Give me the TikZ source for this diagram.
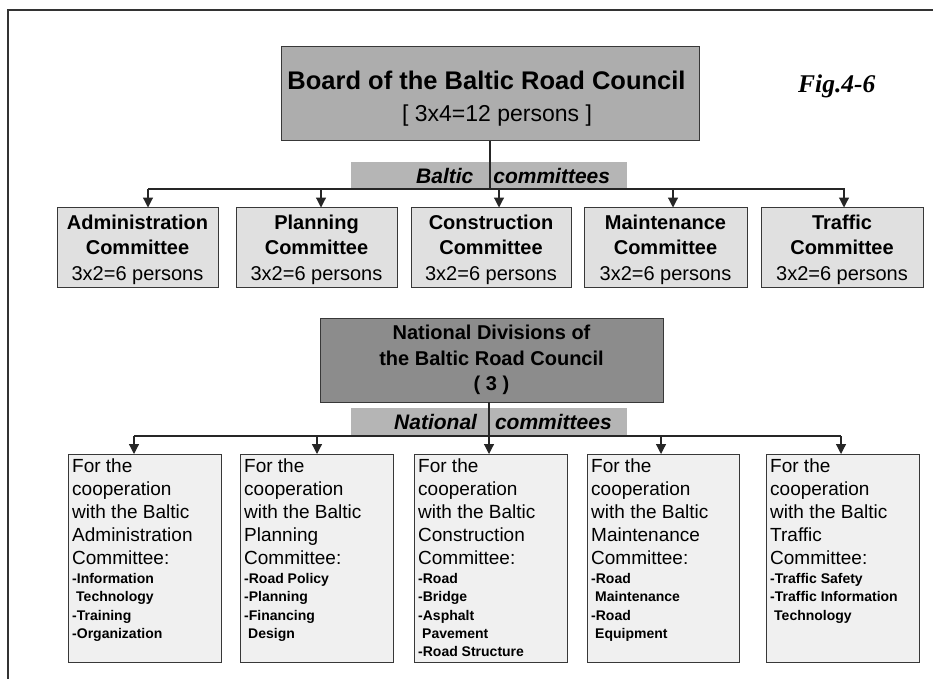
\documentclass[tikz,border=0pt]{standalone}
\usepackage{fontspec}
\setmainfont{Liberation Sans}
\newfontfamily\figfont{Liberation Serif}
\usetikzlibrary{arrows.meta}
\definecolor{boardgray}{gray}{0.68}
\definecolor{natgray}{gray}{0.55}
\definecolor{bargray}{gray}{0.71}
\definecolor{cgray}{gray}{0.88}
\definecolor{bgray}{gray}{0.94}
\definecolor{edgegray}{gray}{0.22}
\begin{document}
\begin{tikzpicture}[x=1pt,y=-1pt,
  rbox/.style={draw=edgegray, line width=1pt, inner sep=0pt, outer sep=0pt},
  bar/.style={fill=bargray, inner sep=0pt, outer sep=0pt, minimum width=276pt},
  cbox/.style={rbox, fill=cgray, minimum height=80pt, align=center, text depth=0pt,
    font=\fontsize{20}{25.5}\selectfont},
  nbox/.style={rbox, fill=bgray, minimum height=208pt},
  head/.style={anchor=north west, inner sep=0pt, align=left,
    font=\fontsize{19}{23}\selectfont},
  items/.style={anchor=north west, inner sep=0pt, align=left,
    font=\fontsize{14}{18.4}\selectfont\bfseries},
  bartext/.style={anchor=base west, inner sep=0pt,
    font=\fontsize{21}{25}\selectfont\bfseries\itshape},
  conn/.style={draw=black!85, line width=1.2pt},
  arr/.style={conn, -{Triangle[width=10pt,length=10pt]}}
]
\useasboundingbox (0,0) rectangle (933,679);
% frame
\draw[line width=2pt, black!80] (8,679) -- (8,10) -- (933,10);

% board
\node[rbox, fill=boardgray, minimum width=418pt, minimum height=94pt] (board) at (490,94) {};
\node[anchor=base, inner sep=0pt, font=\fontsize{25.5}{30}\selectfont\bfseries] (boardt) at (486.5,90) {Board of the Baltic Road Council};
\node[anchor=base, inner sep=0pt, font=\fontsize{23}{27}\selectfont] (boards) at (497,122) {[ 3x4=12 persons ]};

\node[anchor=base west, inner sep=0pt, font=\figfont\bfseries\itshape\fontsize{25.5}{30}\selectfont] (fig) at (798,93) {Fig.4-6};

% baltic committees bar
\node[bar, minimum height=26pt] (bbar) at (489,175) {};
\node[bartext] (bbart) at (416,183) {Baltic\hspace{20pt}committees};

% committee boxes
\node[cbox, minimum width=161pt] (c1) at (137.5,247.5) {\textbf{Administration}\\\textbf{Committee}\\3x2=6 persons};
\node[cbox, minimum width=161pt] (c2) at (316.5,247.5) {\textbf{Planning}\\\textbf{Committee}\\3x2=6 persons};
\node[cbox, minimum width=160pt] (c3) at (491,247.5) {\textbf{Construction}\\\textbf{Committee}\\3x2=6 persons};
\node[cbox, minimum width=163pt] (c4) at (665.5,247.5) {\textbf{Maintenance}\\\textbf{Committee}\\3x2=6 persons};
\node[cbox, minimum width=162pt] (c5) at (842,247.5) {\textbf{Traffic}\\\textbf{Committee}\\3x2=6 persons};

% top connectors
\coordinate (busL) at (148,189);
\coordinate (busR) at (845,189);
\draw[conn] (board.south) -- (board.south |- busL);
\draw[conn] (busL) -- (busR);
\coordinate (a1) at (148,189);
\coordinate (a2) at (321,189);
\coordinate (a3) at (499,189);
\coordinate (a4) at (673,189);
\coordinate (a5) at (844,189);
\draw[arr] (a1) -- (a1 |- c1.north);
\draw[arr] (a2) -- (a2 |- c2.north);
\draw[arr] (a3) -- (a3 |- c3.north);
\draw[arr] (a4) -- (a4 |- c4.north);
\draw[arr] (a5) -- (a5 |- c5.north);

% national divisions
\node[rbox, fill=natgray, minimum width=343pt, minimum height=84pt, align=center,
  font=\fontsize{20}{25.5}\selectfont\bfseries] (nat) at (491.5,360)
  {National Divisions of\\the Baltic Road Council\\( 3 )};

\node[bar, minimum height=27pt] (nbar) at (489,421.5) {};
\node[bartext] (nbart) at (394,429) {National\hspace{18pt}committees};

% national committee boxes
\node[nbox, minimum width=153pt] (b1) at (144.5,558) {};
\node[nbox, minimum width=153pt] (b2) at (316.5,558) {};
\node[nbox, minimum width=153pt] (b3) at (490.5,558) {};
\node[nbox, minimum width=152pt] (b4) at (663,558) {};
\node[nbox, minimum width=153pt] (b5) at (842.5,558) {};

\node[head] (h1) at ([xshift=4pt,yshift=-5pt]b1.north west) {For the\\cooperation\\with the Baltic\\Administration\\Committee:};
\node[head] (h2) at ([xshift=4pt,yshift=-5pt]b2.north west) {For the\\cooperation\\with the Baltic\\Planning\\Committee:};
\node[head] (h3) at ([xshift=4pt,yshift=-5pt]b3.north west) {For the\\cooperation\\with the Baltic\\Construction\\Committee:};
\node[head] (h4) at ([xshift=4pt,yshift=-5pt]b4.north west) {For the\\cooperation\\with the Baltic\\Maintenance\\Committee:};
\node[head] (h5) at ([xshift=4pt,yshift=-5pt]b5.north west) {For the\\cooperation\\with the Baltic\\Traffic\\Committee:};

\node[items] (i1) at ([xshift=4pt,yshift=-119pt]b1.north west) {-Information\\\hspace*{4pt}Technology\\-Training\\-Organization};
\node[items] (i2) at ([xshift=4pt,yshift=-119pt]b2.north west) {-Road Policy\\-Planning\\-Financing\\\hspace*{4pt}Design};
\node[items] (i3) at ([xshift=4pt,yshift=-119pt]b3.north west) {-Road\\-Bridge\\-Asphalt\\\hspace*{4pt}Pavement\\-Road Structure};
\node[items] (i4) at ([xshift=4pt,yshift=-119pt]b4.north west) {-Road\\\hspace*{4pt}Maintenance\\-Road\\\hspace*{4pt}Equipment};
\node[items] (i5) at ([xshift=4pt,yshift=-119pt]b5.north west) {-Traffic Safety\\-Traffic Information\\\hspace*{4pt}Technology};

% bottom connectors
\coordinate (nbusL) at (134,436);
\coordinate (nbusR) at (841,436);
\draw[conn] (nbusL) -- (nbusR);
\coordinate (n1) at (134,436);
\coordinate (n2) at (317,436);
\coordinate (n4) at (661,436);
\coordinate (n5) at (841,436);
\coordinate (ntop) at (489,402);
\draw[arr] (ntop) -- (ntop |- b3.north);
\draw[arr] (n1) -- (n1 |- b1.north);
\draw[arr] (n2) -- (n2 |- b2.north);
\draw[arr] (n4) -- (n4 |- b4.north);
\draw[arr] (n5) -- (n5 |- b5.north);
\end{tikzpicture}
\end{document}
